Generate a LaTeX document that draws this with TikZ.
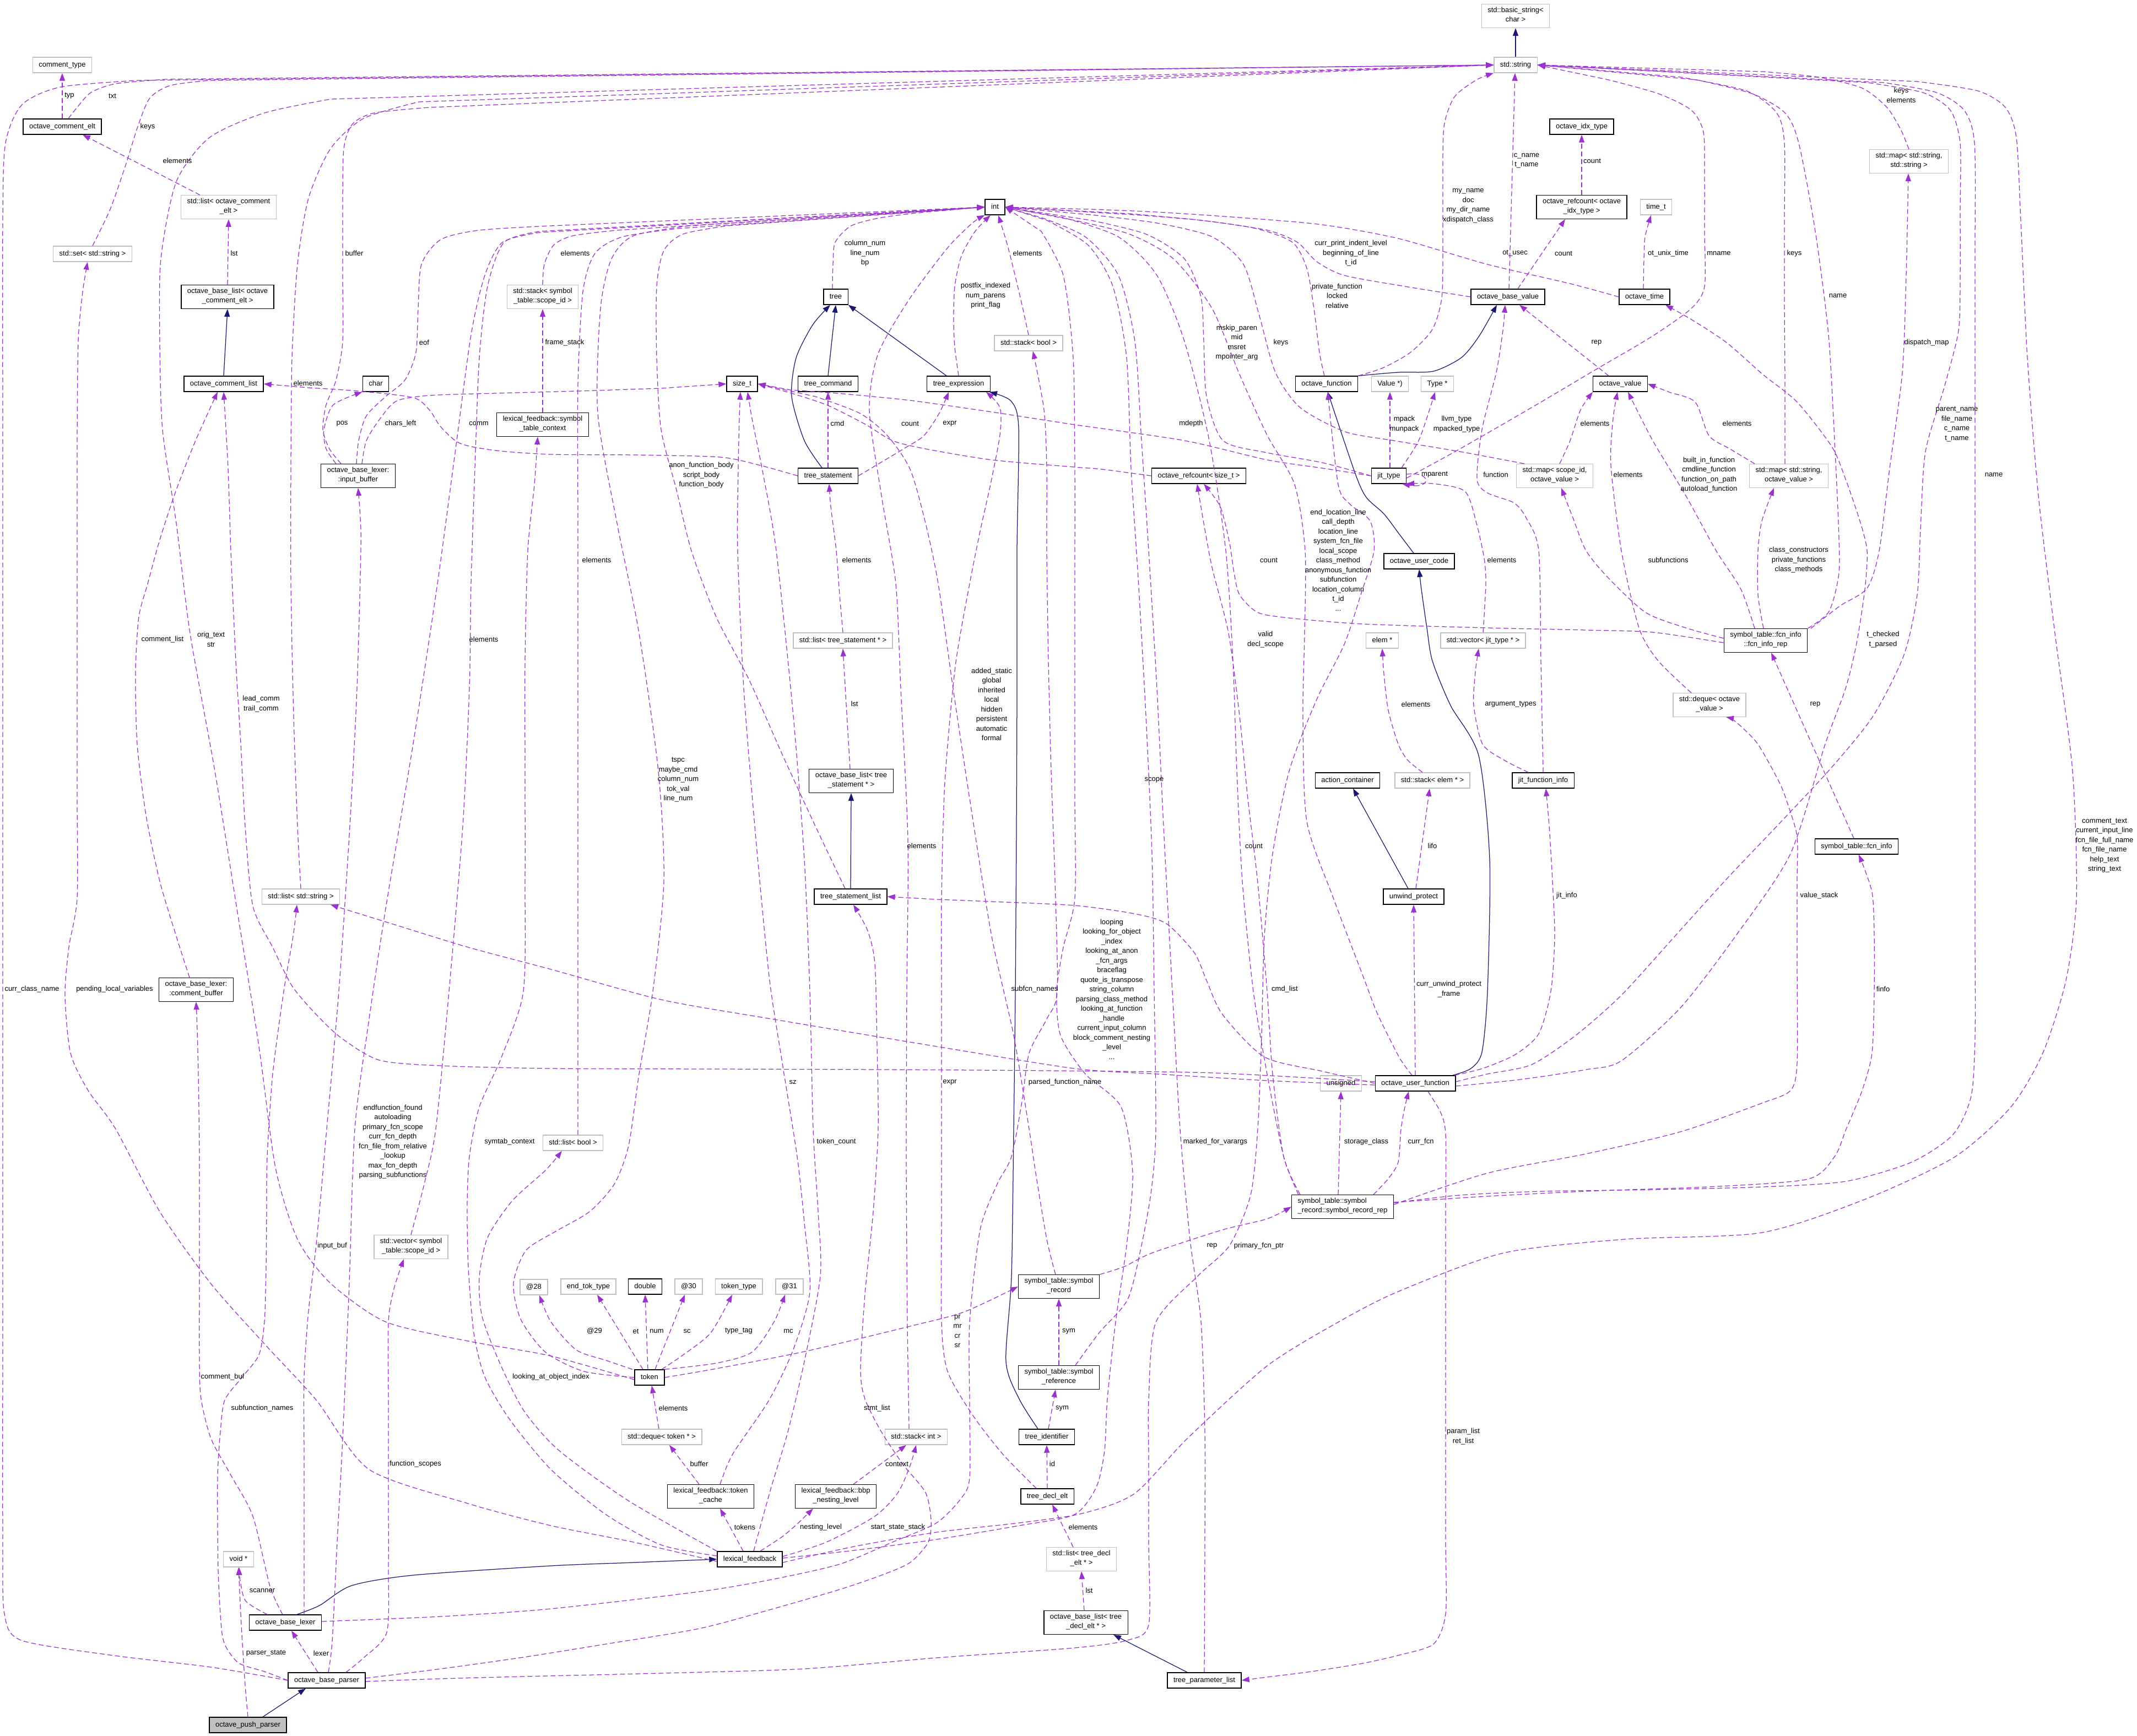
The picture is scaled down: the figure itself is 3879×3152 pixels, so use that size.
\documentclass[tikz,border=0pt]{standalone}
\usepackage{fontspec}
\setmainfont{Liberation Sans}
\usetikzlibrary{arrows.meta}
\definecolor{purp}{HTML}{9A32CD}
\definecolor{mblue}{HTML}{191970}
\definecolor{gbord}{HTML}{BFBFBF}
\newcommand\dfont{\fontsize{13}{17.5}\selectfont}
\tikzset{
 cls/.style={draw=black, line width=1.4pt, font=\dfont, align=center, inner xsep=11pt, inner ysep=5.25pt, execute at begin node=\strut, execute at end node=\strut, fill=white},
 ucls/.style={cls, draw=gbord},
 lbl/.style={font=\dfont, align=center, inner sep=0pt},
 uedge/.style={draw=purp, line width=1.25pt, dash pattern=on 9pt off 5pt, line join=round, -{Triangle[length=14pt,width=10pt,fill=purp]}},
 iedge/.style={draw=mblue, line width=1.25pt, line join=round, -{Triangle[length=14pt,width=10pt,fill=mblue]}},
 sm/.style={smooth, tension=0.45}
}
\begin{document}
\begin{tikzpicture}[x=1pt,y=-1pt]
\path[use as bounding box] (0,0) rectangle (3879,3152);
% ---------------- nodes
\node[ucls] (basicstr) at (2751,29) {std::basic\_string<\\char >};
\node[ucls] (stdstring) at (2751,118) {std::string};
\node[ucls] (ctype) at (113,118) {comment\_type};
\node[cls] (oce) at (113,230) {octave\_comment\_elt};
\node[ucls] (listce) at (415,376) {std::list< octave\_comment\\\_elt >};
\node[ucls] (setstr) at (168,461) {std::set< std::string >};
\node[cls] (oblce) at (413,539) {octave\_base\_list< octave\\\_comment\_elt >};
\node[cls] (ocl) at (406,697) {octave\_comment\_list};
\node[cls] (char) at (682,697) {char};
\node[cls] (ibuf) at (650,864) {octave\_base\_lexer:\\:input\_buffer};
\node[ucls] (stacksid) at (985,539) {std::stack< symbol\\\_table::scope\_id >};
\node[cls] (stc) at (985,771) {lexical\_feedback::symbol\\\_table\_context};
\node[cls] (int) at (1806,376) {int};
\node[cls] (tree) at (1517,539) {tree};
\node[ucls] (stackbool) at (1867,623) {std::stack< bool >};
\node[cls] (sizet) at (1347,697) {size\_t};
\node[cls] (tcmd) at (1503,697) {tree\_command};
\node[cls] (texpr) at (1740,697) {tree\_expression};
\node[cls] (tstmt) at (1503,864) {tree\_statement};
\node[cls] (idxtype) at (2871,230) {octave\_idx\_type};
\node[cls] (refidx) at (2871,376) {octave\_refcount< octave\\\_idx\_type >};
\node[cls] (obv) at (2737,539) {octave\_base\_value};
\node[cls] (ofcn) at (2408,697) {octave\_function};
\node[ucls] (valuep) at (2523,697) {Value *)};
\node[ucls] (typep) at (2609,697) {Type *};
\node[cls] (jit) at (2521,864) {jit\_type};
\node[ucls] (mapsid) at (2822,864) {std::map< scope\_id,\\ octave\_value >};
\node[cls] (refsz) at (2176,864) {octave\_refcount< size\_t >};
\node[cls] (ouc) at (2576,1019) {octave\_user\_code};
\node[ucls] (timet) at (3006,376) {time\_t};
\node[ucls] (mapss) at (3465,293) {std::map< std::string,\\ std::string >};
\node[cls] (otime) at (2985,539) {octave\_time};
\node[cls] (ovalue) at (2941,697) {octave\_value};
\node[ucls] (mapsov) at (3247,864) {std::map< std::string,\\ octave\_value >};
\node[ucls] (liststr) at (546,1628) {std::list< std::string >};
\node[cls] (cbuf) at (356,1797) {octave\_base\_lexer:\\:comment\_buffer};
\node[ucls] (listts) at (1530,1163) {std::list< tree\_statement * >};
\node[cls] (oblts) at (1545,1418) {octave\_base\_list< tree\\\_statement * >};
\node[cls] (tsl) at (1544,1628) {tree\_statement\_list};
\node[ucls] (listbool) at (1040,2075) {std::list< bool >};
\node[ucls] (elem) at (2509,1163) {elem *};
\node[ucls] (vecjit) at (2692,1163) {std::vector< jit\_type * >};
\node[cls] (action) at (2446,1417) {action\_container};
\node[ucls] (stackelem) at (2600,1417) {std::stack< elem * >};
\node[cls] (jfi) at (2801,1417) {jit\_function\_info};
\node[cls] (unwind) at (2566,1628) {unwind\_protect};
\node[ucls] (unsig) at (2434,1967) {unsigned};
\node[cls] (ouf) at (2569,1967) {octave\_user\_function};
\node[cls] (fir) at (3205,1163) {symbol\_table::fcn\_info\\::fcn\_info\_rep};
\node[ucls] (deque) at (3103,1280) {std::deque< octave\\\_value >};
\node[cls] (finfo) at (3370,1537) {symbol\_table::fcn\_info};
\node[ucls] (vecsid) at (746,2264) {std::vector< symbol\\\_table::scope\_id >};
\node[ucls] (at28) at (969,2337) {@28};
\node[ucls] (endtok) at (1068,2336) {end\_tok\_type};
\node[cls] (double) at (1171,2336) {double};
\node[ucls] (at30) at (1250,2336) {@30};
\node[ucls] (toktype) at (1341,2336) {token\_type};
\node[ucls] (at31) at (1433,2336) {@31};
\node[cls] (tok) at (1179,2501) {token};
\node[ucls] (dequetok) at (1201,2609) {std::deque< token * >};
\node[cls] (tcache) at (1290,2717) {lexical\_feedback::token\\\_cache};
\node[cls] (bbp) at (1517,2717) {lexical\_feedback::bbp\\\_nesting\_level};
\node[ucls] (stackint) at (1663,2609) {std::stack< int >};
\node[cls] (lexfb) at (1361,2831) {lexical\_feedback};
\node[cls] (symrec) at (1922,2336) {symbol\_table::symbol\\\_record};
\node[cls] (symref) at (1922,2501) {symbol\_table::symbol\\\_reference};
\node[cls] (tident) at (1900,2609) {tree\_identifier};
\node[cls] (tdecl) at (1901,2717) {tree\_decl\_elt};
\node[ucls] (listtd) at (1963,2831) {std::list< tree\_decl\\\_elt * >};
\node[cls] (obltd) at (1971,2946) {octave\_base\_list< tree\\\_decl\_elt * >};
\node[cls,align=left] (srr) at (2437,2191) {symbol\_table::symbol\\\_record::symbol\_record\_rep};
\node[cls] (tpl) at (2186,3051) {tree\_parameter\_list};
\node[ucls] (voidp) at (433,2831) {void *};
\node[cls] (obl) at (518,2946) {octave\_base\_lexer};
\node[cls] (obp) at (593,3051) {octave\_base\_parser};
\node[cls,fill=gbord] (opp) at (450,3132) {octave\_push\_parser};
% ---------------- inheritance
\draw[iedge] (stdstring) -- (basicstr);
\draw[iedge] (ocl.north) -- (oblce.south);
\draw[iedge] (tcmd.north) -- (tree.south);
\draw[iedge] ([xshift=-22pt]texpr.north) -- (tree.south east);
\draw[iedge] plot[sm] coordinates {([xshift=-11pt]tstmt.north) (1460,800) (1437,720) (1445,650) (1475,590) ([xshift=-10pt]tree.south)};
\draw[iedge] plot[sm] coordinates {(ofcn.north east) (2538,676) (2602,674) (2653,649) (2685,610) ([xshift=-20pt]obv.south)};
\draw[iedge] plot[sm] coordinates {([xshift=-10pt]ouc.north) (2540,970) (2512,933) (2480,903) (2460,860) ([xshift=2pt]ofcn.south)};
\draw[iedge] plot[sm] coordinates {([xshift=68pt]ouf.north) (2670,1940) (2690,1910) (2700,1800) (2704,1561) (2684,1372) (2633,1281) (2600,1200) (2590,1140) (2580,1070) (ouc.south)};
\draw[iedge] (tsl.north) -- (oblts.south);
\draw[iedge] ([xshift=-10pt]unwind.north) -- ([xshift=10pt]action.south);
\draw[iedge] plot[sm] coordinates {([xshift=-16pt]tident.north) (1850,2540) (1826,2472) (1836,2317) (1840,2050) (1843,1800) (1845,1500) (1846,1250) (1846,1000) (1849,777) (1835,728) ([xshift=-2pt]texpr.south east)};
\draw[iedge] plot[sm] coordinates {([xshift=21pt]obl.north) (580,2915) (638,2879) (750,2860) (1000,2843) (1150,2837) (lexfb.west)};
\draw[iedge] ([xshift=27pt]opp.north) -- ([xshift=-38pt]obp.south);
\draw[iedge] ([xshift=-31pt]tpl.north) -- ([xshift=50pt]obltd.south);
% ---------------- usage: to std::string (left)
\draw[uedge] plot[sm] coordinates {(obp.west) (383,3027) (200,3005) (38,2978) (8,2930) (5,2800) (5,2300) (5,1800) (5,1300) (5,800) (5,400) (10,260) (40,190) (110,158) (250,146)} -- (stdstring.west);
\draw[uedge] (oce.north) -- (ctype.south);
\draw[uedge] plot[sm] coordinates {([xshift=11pt]oce.north) (140,195) (165,168) (210,152) (300,144)} -- (stdstring.west);
\draw[uedge] plot[sm] coordinates {(setstr.north) (200,380) (228,300) (250,230) (272,178) (310,155) (380,146)} -- (stdstring.west);
\draw[uedge] plot[sm] coordinates {([yshift=-4pt]tok.west) (1000,2462) (850,2435) (700,2400) (600,2330) (540,2250) (500,2120) (470,1900) (430,1650) (390,1400) (345,1150) (320,950) (295,780) (290,620) (292,470) (320,330) (380,250) (480,205) (600,180)} -- (stdstring.west);
\draw[uedge] plot[sm] coordinates {([xshift=-31pt]ibuf.north) (598,815) (586,780) (592,735) (610,690) (622,620) (622,500) (622,380) (624,270) (640,225) (680,205) (780,195)} -- (stdstring.west);
\draw[uedge] plot[sm] coordinates {(liststr.north) (540,1500) (533,1300) (528,1060) (528,850) (530,650) (540,480) (560,360) (600,270) (660,215) (760,185)} -- (stdstring.west);
\draw[uedge] plot[sm] coordinates {(ofcn.north east) (2510,668) (2560,640) (2600,598) (2617,541) (2619,450) (2619,330) (2621,230) (2640,176) (2680,145) (stdstring.south west)};
\draw[uedge] ([xshift=2pt]obv.north) -- ([xshift=-1pt]stdstring.south);
% ---------------- usage: to std::string (right)
\draw[uedge] plot[sm] coordinates {(mapss.north) (3450,235) (3425,195) (3380,160) (3300,140) (3200,130)} -- (stdstring.east);
\draw[uedge] plot[sm] coordinates {([yshift=-4pt]jit.east) (2650,815) (2780,740) (2900,669) (3000,610) (3070,560) (3094,520) (3094,420) (3094,320) (3092,240) (3070,200) (3010,170) (2920,145)} -- (stdstring.east);
\draw[uedge] plot[sm] coordinates {([xshift=-7pt]mapsov.north) (3240,700) (3239,550) (3239,400) (3239,260) (3225,205) (3170,165) (3050,140)} -- (stdstring.east);
\draw[uedge] plot[sm] coordinates {(fir.north east) (3320,1110) (3338,1040) (3337,950) (3330,800) (3319,608) (3295,420) (3265,260) (3240,205) (3180,170) (3080,145)} -- (stdstring.east);
\draw[uedge] plot[sm] coordinates {([yshift=3pt]ouf.east) (2700,1950) (2780,1933) (2860,1880) (2943,1807) (3040,1700) (3134,1596) (3230,1495) (3325,1393) (3400,1300) (3456,1189) (3480,1080) (3486,960) (3495,820) (3530,700) (3555,600) (3558,500) (3558,380) (3558,260) (3540,200) (3490,168) (3390,150)} -- (stdstring.east);
\draw[uedge] plot[sm] coordinates {([yshift=7pt]srr.east) (2650,2170) (2800,2163) (3000,2160) (3200,2155) (3350,2145) (3470,2110) (3545,2060) (3578,1990) (3585,1880) (3585,1700) (3585,1450) (3585,1200) (3585,950) (3585,700) (3585,450) (3584,260) (3565,200) (3515,168) (3420,150)} -- (stdstring.east);
\draw[uedge] plot[sm] coordinates {([yshift=-6pt]lexfb.east) (1550,2808) (1700,2782) (1850,2765) (1964,2748) (2059,2712) (2155,2612) (2300,2480) (2430,2400) (2538,2345) (2729,2275) (2950,2250) (3198,2238) (3389,2176) (3549,2100) (3650,2010) (3708,1912) (3750,1780) (3769,1631) (3762,1400) (3730,1150) (3700,900) (3680,650) (3668,400) (3660,250) (3640,195) (3590,165) (3480,148)} -- (stdstring.east);
% ---------------- comment elt group
\draw[uedge] ([xshift=-52pt]listce.north) -- ([xshift=37pt]oce.south);
\draw[uedge] (oblce.north) -- (listce.south);
% ---------------- input buffer
\draw[uedge] plot[sm] coordinates {([xshift=-3pt]ibuf.north) (651,800) (665,755) (700,720) (735,690) (755,640) (759,560) (765,480) (800,435) (870,418) (1000,410)} -- (int.west);
\draw[uedge] plot[sm] coordinates {([xshift=-40pt]ibuf.north) (592,815) (588,780) (605,735) (char.south west)};
\draw[uedge] plot[sm] coordinates {([xshift=7pt]ibuf.north) (665,800) (690,760) (720,728) (780,718) (900,714) (1050,710) (1200,705)} -- (sizet.west);
% ---------------- int (left)
\draw[uedge] plot[sm] coordinates {(stacksid.north) (988,480) (1005,445) (1040,428) (1120,418)} -- (int.west);
\draw[uedge] (stc.north) -- (stacksid.south);
\draw[uedge] plot[sm] coordinates {([xshift=-6pt]tree.north) (1512,480) (1516,440) (1545,410) (1600,395) (1680,385)} -- (int.west);
\draw[uedge] plot[sm] coordinates {(texpr.north) (1733,630) (1731,581) (1733,520) (1745,465) (1770,420) ([xshift=-8pt]int.south)};
\draw[uedge] plot[sm] coordinates {(stackbool.north) (1852,540) (1830,450) ([xshift=6pt]int.south)};
\draw[uedge] plot[sm] coordinates {([xshift=-10pt]tsl.north) (1480,1500) (1420,1370) (1360,1235) (1300,1120) (1255,1000) (1228,890) (1200,780) (1192,650) (1192,520) (1205,455) (1240,425) (1320,410)} -- (int.west);
\draw[uedge] plot[sm] coordinates {(tok.west) (1060,2490) (990,2455) (945,2395) (932,2330) (955,2270) (1010,2235) (1070,2200) (1115,2150) (1141,2080) (1160,1950) (1185,1800) (1205,1600) (1195,1400) (1160,1150) (1120,950) (1085,750) (1090,560) (1110,470) (1150,428) (1250,410)} -- (int.west);
\draw[uedge] plot[sm] coordinates {(vecsid.north) (770,2150) (791,2050) (815,1800) (840,1500) (852,1250) (855,1060) (862,850) (870,650) (885,520) (915,440) (980,420)} -- (int.west);
\draw[uedge] plot[sm] coordinates {([xshift=9pt]listbool.north) (1049,1900) (1049,1700) (1049,1450) (1049,1200) (1049,950) (1049,700) (1058,530) (1080,460) (1130,430) (1230,415)} -- (int.west);
\draw[uedge] plot[sm] coordinates {([xshift=3pt]obp.north) (603,2980) (612,2800) (622,2612) (634,2330) (644,2050) (670,1850) (700,1650) (750,1350) (794,1060) (825,830) (855,608) (880,500) (912,440) (980,422)} -- (int.west);
\draw[uedge] plot[sm] coordinates {([xshift=-13pt]stackint.north) (1647,2400) (1645,2100) (1646,1800) (1648,1526) (1635,1250) (1626,1060) (1600,900) (1578,744) (1594,642) (1652,541) (1720,450) (1765,405) (int.south west)};
% ---------------- int (right)
\draw[uedge] plot[sm] coordinates {([xshift=-6pt]ouf.north) (2540,1920) (2500,1840) (2474,1772) (2420,1630) (2372,1491) (2365,1300) (2368,1150) (2369,1000) (2350,880) (2300,790) (2250,680) (2200,560) (2130,470) (2050,425) (1950,400)} -- (int.east);
\draw[uedge] plot[sm] coordinates {([xshift=-4pt]ofcn.north) (2395,640) (2385,560) (2372,487) (2346,440) (2280,415) (2180,400) (2060,390)} -- (int.east);
\draw[uedge] plot[sm] coordinates {(obv.west) (2550,520) (2440,500) (2390,475) (2355,440) (2300,418) (2180,400) (2050,388)} -- (int.east);
\draw[uedge] plot[sm] coordinates {(otime.west) (2850,515) (2700,480) (2538,433) (2400,408) (2250,395) (2100,385) (1980,380)} -- (int.east);
\draw[uedge] plot[sm] coordinates {(jit.west) (2400,840) (2300,822) (2220,800) (2190,720) (2185,620) (2180,540) (2150,470) (2080,425) (1980,400)} -- (int.east);
\draw[uedge] plot[sm] coordinates {([xshift=-55pt]mapsid.north) (2650,820) (2530,800) (2442,784) (2360,740) (2315,676) (2285,570) (2257,480) (2200,430) (2100,405) (1980,390)} -- (int.east);
\draw[uedge] plot[sm] coordinates {(tpl.north) (2187,2800) (2187,2600) (2180,2400) (2160,2250) (2142,2050) (2128,1800) (2112,1500) (2100,1250) (2085,1000) (2072,800) (2060,620) (2030,500) (1970,430) (1890,395)} -- (int.east);
\draw[uedge] plot[sm] coordinates {([xshift=30pt]symref.north) (1995,2420) (2047,2359) (2072,2261) (2090,2160) (2098,2050) (2095,1800) (2091,1550) (2080,1300) (2066,1050) (2053,850) (2045,650) (2020,520) (1975,445) (1900,400)} -- (int.east);
\draw[uedge] plot[sm] coordinates {([xshift=-80pt]srr.north) (2330,2100) (2300,1950) (2275,1800) (2255,1600) (2245,1400) (2238,1200) (2225,1000) (2195,800) (2150,620) (2100,500) (2030,430) (1930,395)} -- (int.east);
\draw[uedge] plot[sm] coordinates {([yshift=2pt]lexfb.east) (1550,2815) (1700,2795) (1850,2770) (1950,2750) (1990,2700) (2005,2633) (2010,2540) (2025,2400) (2045,2261) (2056,2130) (2035,2010) (1970,1950) (1925,1880) (1918,1800) (1930,1720) (1951,1631) (1951,1450) (1951,1250) (1951,1050) (1951,850) (1948,650) (1930,500) (1890,420)} -- (int.east);
% ---------------- tree group
\draw[uedge] (tstmt.north) -- (tcmd.south);
\draw[uedge] plot[sm] coordinates {(tstmt.east) (1640,815) (1677,791) (1705,750) ([xshift=-18pt]texpr.south)};
\draw[uedge] plot[sm] coordinates {(tstmt.west) (1380,845) (1307,830) (1150,826) (1000,825) (900,818) (835,805) (800,775) (780,745) (750,722) (650,710) (560,704)} -- (ocl.east);
\draw[uedge] plot[sm] coordinates {(listts.north) (1524,1080) (1518,1000) (1508,920) ([xshift=2pt]tstmt.south)};
\draw[uedge] ([xshift=-2pt]oblts.north) -- (listts.south);
% ---------------- size_t
\draw[uedge] plot[sm] coordinates {(refsz.west) (2000,852) (1950,848) (1800,835) (1680,815) (1620,800) (1570,770) (1500,735) (1430,712)} -- (sizet.east);
\draw[uedge] plot[sm] coordinates {(jit.west) (2400,850) (2300,835) (2150,800) (1950,771) (1800,748) (1652,727) (1530,715) (1435,708)} -- (sizet.east);
\draw[uedge] plot[sm] coordinates {([xshift=-6pt]symrec.north) (1900,2250) (1880,2130) (1868,2050) (1840,1880) (1800,1700) (1760,1450) (1730,1250) (1703,1060) (1680,950) (1652,852) (1610,790) (1560,750) (1480,720)} -- (sizet.east);
\draw[uedge] plot[sm] coordinates {([xshift=7pt]lexfb.north) (1375,2790) (1400,2700) (1430,2600) (1460,2472) (1489,2317) (1485,2200) (1476,2050) (1470,1800) (1460,1561) (1440,1300) (1409,1000) (1385,860) (1365,760) ([xshift=10pt]sizet.south)};
\draw[uedge] plot[sm] coordinates {([xshift=17pt]tcache.north) (1330,2640) (1396,2542) (1440,2450) (1470,2345) (1460,2220) (1447,2100) (1420,1930) (1396,1772) (1370,1500) (1350,1250) (1339,1000) (1340,850) (1342,760) ([xshift=-3pt]sizet.south)};
% ---------------- octave value group
\draw[uedge] ([xshift=18pt]obv.north) -- ([xshift=-30pt]refidx.south);
\draw[uedge] (refidx.north) -- (idxtype.south);
\draw[uedge] plot[sm] coordinates {([xshift=-2pt]otime.north) (2984,470) (2986,430) ([xshift=-9pt]timet.south)};
\draw[uedge] ([xshift=-21pt]ovalue.north) -- ([xshift=21pt]obv.south);
\draw[uedge] ([xshift=2pt]jit.north) -- ([xshift=0pt]valuep.south);
\draw[uedge] plot[sm] coordinates {([xshift=23pt]jit.north) (2576,798) ([xshift=-4pt]typep.south)};
\draw[uedge] ([yshift=3pt]jit.east) .. controls (2598,855) and (2600,888) .. ([xshift=24pt]jit.south);
\draw[uedge] plot[sm] coordinates {(jfi.north) (2797,1200) (2793,1000) (2770,940) (2748,913) (2700,895) (2681,870) (2690,780) (2716,676) (2728,600) ([xshift=-5pt]obv.south)};
\draw[uedge] plot[sm] coordinates {(vecjit.north) (2697,1060) (2694,1014) (2680,950) (2659,892) (2600,878) (jit.south east)};
\draw[uedge] plot[sm] coordinates {([xshift=-62pt]mapsov.north) (3140,815) (3102,791) (3077,730) (3030,712) (ovalue.east)};
\draw[uedge] plot[sm] coordinates {([xshift=9pt]mapsid.north) (2850,800) (2869,744) (ovalue.south west)};
\draw[uedge] plot[sm] coordinates {([xshift=-20pt]fir.north) (3160,1070) (3115,1000) (3060,900) (3000,800) ([xshift=14pt]ovalue.south)};
\draw[uedge] plot[sm] coordinates {([xshift=-33pt]deque.north) (3010,1200) (2975,1140) (2943,1000) (2924,845) (2928,760) ([xshift=-5pt]ovalue.south)};
\draw[uedge] plot[sm] coordinates {([yshift=4pt]fir.west) (3060,1140) (2987,1112) (2920,1050) (2879,1000) (2855,940) ([xshift=12pt]mapsid.south)};
\draw[uedge] plot[sm] coordinates {([xshift=-4pt]fir.north) (3191,1080) (3191,1000) (3198,946) ([xshift=-27pt]mapsov.south)};
\draw[uedge] plot[sm] coordinates {([xshift=82pt]fir.north) (3340,1100) (3389,1068) (3411,1000) (3430,850) (3453,676) (3460,500) ([xshift=-1pt]mapss.south)};
\draw[uedge] plot[sm] coordinates {([yshift=-4pt]fir.west) (3000,1148) (2879,1144) (2700,1140) (2474,1133) (2340,1122) (2283,1112) (2250,1080) (2240,1040) (2232,987) (2215,920) ([xshift=9pt]refsz.south)};
\draw[uedge] plot[sm] coordinates {([xshift=-77pt]srr.north) (2330,2100) (2310,1950) (2300,1800) (2283,1603) (2265,1450) (2250,1300) (2230,1150) (2200,1030) (2185,950) ([xshift=-3pt]refsz.south)};
\draw[uedge] ([xshift=-5pt]finfo.north) -- ([xshift=10pt]fir.south);
% ---------------- user function group
\draw[uedge] plot[sm] coordinates {([yshift=-5pt]ouf.east) (2760,1960) (2879,1942) (2943,1926) (3050,1830) (3150,1700) (3250,1550) (3313,1351) (3350,1250) (3370,1168) (3385,1070) (3389,1000) (3376,946) (3350,870) (3325,811) (3262,730) (3200,680) (3134,622) (3070,580) ([xshift=38pt]otime.south)};
\draw[uedge] plot[sm] coordinates {([xshift=71pt]ouf.north) (2691,1940) (2750,1915) (2793,1877) (2815,1800) (2822,1701) (2818,1600) (2812,1500) ([xshift=5pt]jfi.south)};
\draw[uedge] (ouf.north) -- (unwind.south);
\draw[uedge] ([xshift=4pt]unwind.north) -- ([xshift=-5pt]stackelem.south);
\draw[uedge] plot[sm] coordinates {([xshift=-18pt]stackelem.north) (2555,1380) (2538,1351) (2520,1290) (2512,1224) (elem.south)};
\draw[uedge] plot[sm] coordinates {([xshift=-27pt]jfi.north) (2730,1380) (2691,1351) (2675,1281) (2678,1220) ([xshift=-8pt]vecjit.south)};
\draw[uedge] plot[sm] coordinates {([yshift=3pt]ouf.west) (2200,1948) (1900,1944) (1600,1942) (1300,1941) (1000,1940) (800,1935) (689,1925) (620,1885) (574,1842) (530,1790) (495,1720) (459,1645) (445,1500) (437,1350) (428,1200) (419,1000) (414,850) (ocl.south)};
\draw[uedge] plot[sm] coordinates {([yshift=-3pt]ouf.west) (2300,1962) (2100,1950) (1950,1940) (1700,1900) (1400,1850) (1200,1815) (1000,1760) (850,1720) (720,1680) ([xshift=54pt]liststr.south)};
\draw[uedge] plot[sm] coordinates {(ouf.west) (2400,1945) (2295,1919) (2219,1842) (2190,1780) (2168,1730) (2117,1677) (2059,1659) (1950,1644) (1800,1637) (1700,1633)} -- (tsl.east);
\draw[uedge] plot[sm] coordinates {([xshift=23pt]ouf.south) (2615,2020) (2624,2060) (2624,2200) (2624,2400) (2624,2600) (2624,2800) (2624,2930) (2602,2985) (2540,3005) (2474,3020) (2380,3035) (2300,3045)} -- (tpl.east);
% ---------------- symbol record group
\draw[uedge] ([xshift=-8pt]srr.north) -- (unsig.south);
\draw[uedge] plot[sm] coordinates {([xshift=56pt]srr.north) (2520,2140) (2538,2110) (2543,2050) (2550,2010) ([xshift=-12pt]ouf.south)};
\draw[uedge] plot[sm] coordinates {([yshift=4pt]srr.east) (2700,2130) (2879,2095) (3050,2055) (3198,2003) (3250,1980) (3262,1930) (3262,1750) (3262,1600) (3262,1519) (3245,1460) (3230,1421) (3190,1350) (3150,1310) ([xshift=30pt]deque.south)};
\draw[uedge] plot[sm] coordinates {([yshift=8pt]srr.east) (2700,2172) (2900,2162) (3100,2155) (3281,2141) (3330,2100) (3351,2050) (3380,1980) (3398,1912) (3402,1800) (3402,1701) (3398,1620) ([xshift=4pt]finfo.south)};
\draw[uedge] plot[sm] coordinates {(symrec.north east) (2040,2300) (2091,2275) (2219,2233) (2300,2213) (srr.west)};
\draw[uedge] (symref.north) -- (symrec.south);
\draw[uedge] ([xshift=3pt]tident.north) -- ([xshift=-6pt]symref.south);
\draw[uedge] (tdecl.north) -- (tident.south);
\draw[uedge] ([xshift=-15pt]listtd.north) -- ([xshift=9pt]tdecl.south);
\draw[uedge] ([xshift=-3pt]obltd.north) -- (listtd.south);
\draw[uedge] plot[sm] coordinates {(tok.east) (1300,2485) (1460,2454) (1652,2408) (1750,2382) (symrec.west)};
\draw[uedge] plot[sm] coordinates {([xshift=-20pt]tdecl.north) (1820,2640) (1766,2570) (1720,2490) (1709,2400) (1709,2200) (1709,2000) (1709,1800) (1709,1631) (1715,1421) (1734,1210) (1760,1060) (1780,960) (1798,879) (1815,790) (1815,740) ([xshift=50pt]texpr.south)};
% ---------------- token group
\draw[uedge] ([xshift=-12pt]lexfb.north) -- ([xshift=17pt]tcache.south);
\draw[uedge] plot[sm] coordinates {([xshift=19pt]lexfb.north) (1420,2790) (1447,2767) ([xshift=-41pt]bbp.south)};
\draw[uedge] plot[sm] coordinates {([yshift=5pt]lexfb.east) (1500,2800) (1588,2753) (1630,2710) (1652,2661) (stackint.south)};
\draw[uedge] ([xshift=32pt]bbp.north) -- ([xshift=-18pt]stackint.south);
\draw[uedge] ([xshift=-21pt]tcache.north) -- ([xshift=14pt]dequetok.south);
\draw[uedge] ([xshift=-5pt]dequetok.north) -- ([xshift=4pt]tok.south);
\draw[uedge] plot[sm] coordinates {([xshift=-31pt]tok.north) (1100,2470) (1046,2451) (1000,2400) ([xshift=10pt]at28.south)};
\draw[uedge] ([xshift=-12pt]tok.north) -- ([xshift=16pt]endtok.south);
\draw[uedge] ([xshift=-3pt]tok.north) -- (double.south);
\draw[uedge] ([xshift=10pt]tok.north) -- ([xshift=-7pt]at30.south);
\draw[uedge] plot[sm] coordinates {([xshift=22pt]tok.north) (1240,2460) (1290,2420) ([xshift=-12pt]toktype.south)};
\draw[uedge] plot[sm] coordinates {(tok.north east) (1300,2475) (1365,2455) (1405,2400) ([xshift=-8pt]at31.south)};
% ---------------- parser / lexer group
\draw[uedge] plot[sm] coordinates {([yshift=4pt]obp.east) (800,3030) (950,3009) (1100,2985) (1269,2957) (1400,2922) (1524,2886) (1600,2860) (1652,2837) (1685,2800) (1690,2760) (1680,2710) (1640,2660) (1600,2600) (1570,2540) (1562,2486) (1570,2350) (1585,2200) (1594,2050) (1592,1900) (1588,1750) (1575,1690) ([xshift=5pt]tsl.south)};
\draw[uedge] plot[sm] coordinates {([yshift=-2pt]obp.east) (800,3048) (950,3044) (1200,3038) (1460,3030) (1700,3010) (1950,2992) (2047,2978) (2085,2950) (2085,2800) (2085,2650) (2085,2542) (2098,2401) (2174,2317) (2232,2261) (2270,2170) (2283,2050) (2290,1880) (2295,1701) (2310,1550) (2340,1400) (2390,1270) (2440,1170) (2470,1080) (2494,1000) (2487,946) (2450,915) (2429,880) ([xshift=2pt]ofcn.south)};
\draw[uedge] ([xshift=-16pt]obp.north) -- ([xshift=11pt]obl.south);
\draw[uedge] plot[sm] coordinates {([xshift=35pt]obp.north) (660,3010) (702,2964) (705,2850) (705,2700) (705,2550) (705,2401) (715,2340) ([xshift=-13pt]vecsid.south)};
\draw[uedge] plot[sm] coordinates {(obp.west) (480,3035) (434,3020) (410,2990) (402,2957) (396,2850) (395,2683) (400,2600) (408,2542) (440,2500) (470,2460) (480,2400) (483,2300) (484,2200) (485,2100) (495,1950) (515,1800) (532,1700) ([xshift=-7pt]liststr.south)};
\draw[uedge] plot[sm] coordinates {([xshift=34pt]obl.north) (552,2800) (552,2650) (552,2500) (560,2380) (575,2250) (593,2050) (615,1800) (635,1500) (648,1250) (655,1000) (654,940) (ibuf.south)};
\draw[uedge] plot[sm] coordinates {([xshift=-5pt]obl.north) (490,2880) (459,2753) (420,2680) (383,2612) (365,2540) (362,2472) (362,2300) (362,2100) (360,1950) (358,1870) (cbuf.south)};
\draw[uedge] plot[sm] coordinates {([xshift=-12pt]cbuf.north) (320,1700) (290,1600) (265,1480) (249,1351) (246,1220) (252,1120) (268,1060) (290,980) (319,892) (355,800) ([xshift=-11pt]ocl.south)};
\draw[uedge] plot[sm] coordinates {([xshift=-33pt]obl.north) (446,2907) (436,2870) ([xshift=1pt]voidp.south)};
\draw[uedge] plot[sm] coordinates {(opp.north) (445,3060) (438,2950) (voidp.south)};
\draw[uedge] plot[sm] coordinates {([yshift=2pt]obl.east) (800,2935) (1000,2921) (1269,2890) (1400,2868) (1524,2840) (1620,2800) (1700,2765) (1745,2720) (1760,2683) (1760,2550) (1760,2401) (1779,2233) (1810,2150) (1836,2100) (1855,2000) (1868,1912) (1900,1850) (1919,1800) (1915,1600) (1908,1400) (1903,1200) (1900,1000) (1900,850) (1895,744) ([xshift=8pt]stackbool.south)};
% ---------------- lexical feedback left side
\draw[uedge] plot[sm] coordinates {([yshift=-4pt]lexfb.west) (1150,2800) (1000,2770) (850,2730) (670,2668) (574,2542) (480,2440) (383,2331) (290,2200) (210,2050) (160,1980) (128,1912) (118,1807) (125,1720) (140,1631) (140,1450) (140,1250) (140,1000) (140,800) (142,620) (150,530) ([xshift=-9pt]setstr.south)};
\draw[uedge] plot[sm] coordinates {([yshift=6pt]lexfb.west) (1200,2805) (1100,2750) (1000,2668) (925,2577) (880,2500) (860,2420) (850,2300) (848,2190) (852,2100) (870,2010) (910,1920) (950,1800) (953,1600) (953,1400) (953,1200) (958,1000) (970,880) ([xshift=-9pt]stc.south)};
\draw[uedge] plot[sm] coordinates {(lexfb.north west) (1141,2725) (1014,2633) (950,2560) (906,2472) (875,2390) (870,2320) (885,2247) (930,2180) (990,2125) ([xshift=-20pt]listbool.south)};
% ---------------- labels
\node[lbl] (t1) at (126,174) {typ};
\node[lbl] (t2) at (204,174) {txt};
\node[lbl] (t3) at (268,230) {keys};
\node[lbl] (t4) at (322,292) {elements};
\node[lbl] (t5) at (425,460) {lst};
\node[lbl] (t6) at (643,460) {buffer};
\node[lbl] (t7) at (770,622) {eof};
\node[lbl] (t8) at (559,696) {elements};
\node[lbl] (t9) at (621,769) {pos};
\node[lbl] (t10) at (727,769) {chars\_left};
\node[lbl] (t11) at (869,769) {comm};
\node[lbl] (t12) at (1044,460) {elements};
\node[lbl] (t13) at (1025,622) {frame\_stack};
\node[lbl] (t14) at (1570,460) {column\_num\\line\_num\\bp};
\node[lbl] (t15) at (1789,537) {postfix\_indexed\\num\_parens\\print\_flag};
\node[lbl] (t16) at (1865,460) {elements};
\node[lbl] (t17) at (1520,769) {cmd};
\node[lbl] (t18) at (1652,769) {count};
\node[lbl] (t19) at (1724,769) {expr};
\node[lbl] (t20) at (1273,863) {anon\_function\_body\\script\_body\\function\_body};
\node[lbl] (t21) at (1083,1017) {elements};
\node[lbl] (t22) at (1555,1017) {elements};
\node[lbl] (t23) at (2771,292) {c\_name\\t\_name};
\node[lbl] (t24) at (2665,374) {my\_name\\doc\\my\_dir\_name\\xdispatch\_class};
\node[lbl] (t25) at (2838,460) {count};
\node[lbl] (t26) at (2750,460) {ot\_usec};
\node[lbl] (t27) at (2452,460) {curr\_print\_indent\_level\\beginning\_of\_line\\t\_id};
\node[lbl] (t28) at (2427,537) {private\_function\\locked\\relative};
\node[lbl] (t29) at (2245,622) {mskip\_paren\\mid\\msret\\mpointer\_arg};
\node[lbl] (t30) at (2325,622) {keys};
\node[lbl] (t31) at (2162,769) {mdepth};
\node[lbl] (t32) at (2549,770) {mpack\\munpack};
\node[lbl] (t33) at (2644,770) {llvm\_type\\mpacked\_type};
\node[lbl] (t34) at (2604,862) {mparent};
\node[lbl] (t35) at (2715,862) {function};
\node[lbl] (t36) at (2303,1017) {count};
\node[lbl] (t37) at (2726,1017) {elements};
\node[lbl] (t38) at (2890,292) {count};
\node[lbl] (t39) at (3451,173) {keys\\elements};
\node[lbl] (t40) at (3028,460) {ot\_unix\_time};
\node[lbl] (t41) at (3120,460) {mname};
\node[lbl] (t42) at (3257,460) {keys};
\node[lbl] (t43) at (3336,537) {name};
\node[lbl] (t44) at (3497,622) {dispatch\_map};
\node[lbl] (t45) at (2898,622) {rep};
\node[lbl] (t46) at (3153,769) {elements};
\node[lbl] (t47) at (2895,769) {elements};
\node[lbl] (t48) at (3552,770) {parent\_name\\file\_name\\c\_name\\t\_name};
\node[lbl] (t49) at (3102,862) {built\_in\_function\\cmdline\_function\\function\_on\_path\\autoload\_function};
\node[lbl] (t50) at (2955,862) {elements};
\node[lbl] (t51) at (3619,862) {name};
\node[lbl] (t52) at (3028,1017) {subfunctions};
\node[lbl] (t53) at (3265,1017) {class\_constructors\\private\_functions\\class\_methods};
\node[lbl] (t54) at (2429,1017) {end\_location\_line\\call\_depth\\location\_line\\system\_fcn\_file\\local\_scope\\class\_method\\anonymous\_function\\subfunction\\location\_column\\t\_id\\...};
\node[lbl] (t55) at (295,1161) {comment\_list};
\node[lbl] (t56) at (383,1161) {orig\_text\\str};
\node[lbl] (t57) at (474,1278) {lead\_comm\\trail\_comm};
\node[lbl] (t58) at (878,1161) {elements};
\node[lbl] (t59) at (208,1796) {pending\_local\_variables};
\node[lbl] (t60) at (58,1796) {curr\_class\_name};
\node[lbl] (t61) at (713,2073) {endfunction\_found\\autoloading\\primary\_fcn\_scope\\curr\_fcn\_depth\\fcn\_file\_from\_relative\\\_lookup\\max\_fcn\_depth\\parsing\_subfunctions};
\node[lbl] (t62) at (925,2073) {symtab\_context};
\node[lbl] (t63) at (1551,1278) {lst};
\node[lbl] (t64) at (1231,1416) {tspc\\maybe\_cmd\\column\_num\\tok\_val\\line\_num};
\node[lbl] (t65) at (1673,1536) {elements};
\node[lbl] (t66) at (1800,1279) {added\_static\\global\\inherited\\local\\hidden\\persistent\\automatic\\formal};
\node[lbl] (t67) at (1878,1796) {subfcn\_names};
\node[lbl] (t68) at (1439,1965) {sz};
\node[lbl] (t69) at (1724,1965) {expr};
\node[lbl] (t70) at (1933,1965) {parsed\_function\_name};
\node[lbl] (t71) at (1518,2073) {token\_count};
\node[lbl] (t72) at (2297,1161) {valid\\decl\_scope};
\node[lbl] (t73) at (2570,1279) {elements};
\node[lbl] (t74) at (2742,1279) {argument\_types};
\node[lbl] (t75) at (2095,1416) {scope};
\node[lbl] (t76) at (2276,1536) {count};
\node[lbl] (t77) at (2600,1536) {lifo};
\node[lbl] (t78) at (2844,1626) {jit\_info};
\node[lbl] (t79) at (2018,1796) {looping\\looking\_for\_object\\\_index\\looking\_at\_anon\\\_fcn\_args\\braceflag\\quote\_is\_transpose\\string\_column\\parsing\_class\_method\\looking\_at\_function\\\_handle\\current\_input\_column\\block\_comment\_nesting\\\_level\\...};
\node[lbl] (t80) at (2332,1796) {cmd\_list};
\node[lbl] (t81) at (2630,1796) {curr\_unwind\_protect\\\_frame};
\node[lbl] (t82) at (2206,2073) {marked\_for\_varargs};
\node[lbl] (t83) at (2480,2073) {storage\_class};
\node[lbl] (t84) at (2579,2073) {curr\_fcn};
\node[lbl] (t85) at (3418,1161) {t\_checked\\t\_parsed};
\node[lbl] (t86) at (3295,1279) {rep};
\node[lbl] (t87) at (3302,1626) {value\_stack};
\node[lbl] (t88) at (3418,1796) {finfo};
\node[lbl] (t89) at (3820,1535) {comment\_text\\current\_input\_line\\fcn\_file\_full\_name\\fcn\_file\_name\\help\_text\\string\_text};
\node[lbl] (t90) at (603,2262) {input\_buf};
\node[lbl] (t91) at (404,2500) {comment\_buf};
\node[lbl] (t92) at (476,2557) {subfunction\_names};
\node[lbl] (t93) at (754,2658) {function\_scopes};
\node[lbl] (t94) at (1000,2500) {looking\_at\_object\_index};
\node[lbl] (t95) at (476,2888) {scanner};
\node[lbl] (t96) at (483,3002) {parser\_state};
\node[lbl] (t97) at (583,3002) {lexer};
\node[lbl] (t98) at (1079,2417) {@29};
\node[lbl] (t99) at (1154,2417) {et};
\node[lbl] (t100) at (1192,2417) {num};
\node[lbl] (t101) at (1247,2417) {sc};
\node[lbl] (t102) at (1341,2417) {type\_tag};
\node[lbl] (t103) at (1431,2417) {mc};
\node[lbl] (t104) at (1738,2417) {pr\\mr\\cr\\sr};
\node[lbl] (t105) at (1222,2557) {elements};
\node[lbl] (t106) at (1592,2557) {stmt\_list};
\node[lbl] (t107) at (1928,2557) {sym};
\node[lbl] (t108) at (1269,2658) {buffer};
\node[lbl] (t109) at (1628,2658) {context};
\node[lbl] (t110) at (1910,2658) {id};
\node[lbl] (t111) at (1352,2773) {tokens};
\node[lbl] (t112) at (1490,2773) {nesting\_level};
\node[lbl] (t113) at (1630,2773) {start\_state\_stack};
\node[lbl] (t114) at (1966,2773) {elements};
\node[lbl] (t115) at (1940,2417) {sym};
\node[lbl] (t116) at (2200,2262) {rep};
\node[lbl] (t117) at (2285,2262) {primary\_fcn\_ptr};
\node[lbl] (t118) at (2656,2608) {param\_list\\ret\_list};
\node[lbl] (t119) at (1977,2888) {lst};
\end{tikzpicture}
\end{document}
